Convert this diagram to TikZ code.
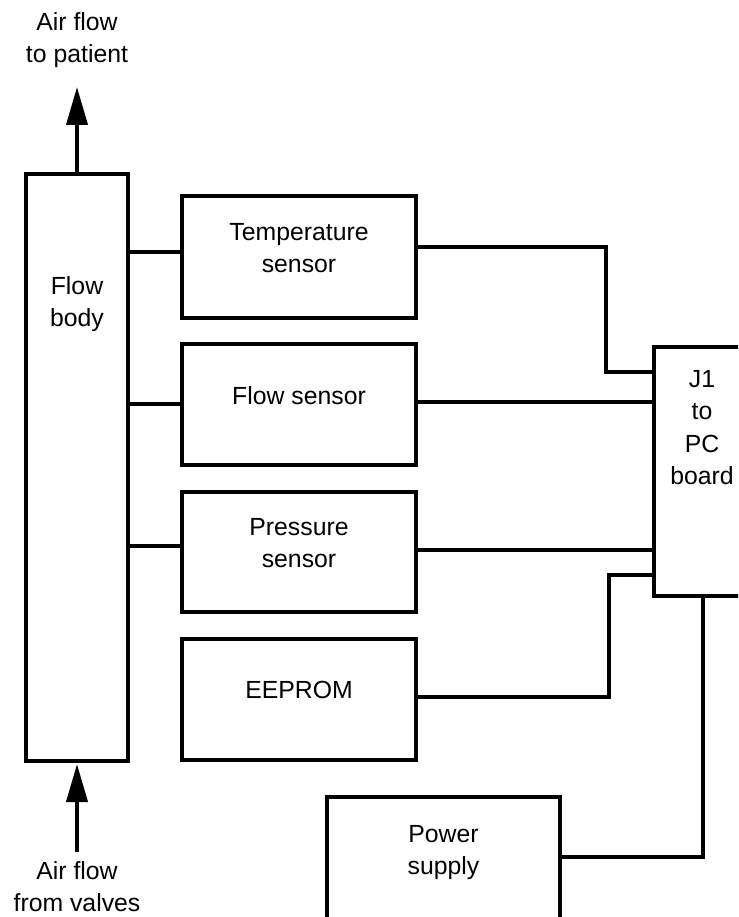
\documentclass[tikz,border=0pt]{standalone}
\usepackage{fontspec}
\setmainfont{Liberation Sans}
\usetikzlibrary{arrows.meta}
\tikzset{
  box/.style={draw, line width=4pt, rectangle, inner sep=0pt},
  txt/.style={align=center, inner sep=0pt, font=\fontsize{24.8}{32.5}\selectfont},
  wire/.style={line width=4pt},
  flowarrow/.style={line width=4pt, -{Triangle[length=38pt,width=21pt]}}
}
\begin{document}
\begin{tikzpicture}[x=1pt,y=-1pt]
\useasboundingbox (0,0) rectangle (738,917);
\clip (0,0) rectangle (738,917);
% boxes
\node[box, minimum width=102pt, minimum height=587pt,
      label={[txt, name=fbT, anchor=north, yshift=-104pt]north:{Flow\\body}}] (fb) at (77,467.5) {};
\node[box, minimum width=234pt, minimum height=122pt,
      label={[txt, name=tempT, yshift=9pt]center:{Temperature\\sensor}}] (temp) at (299,257) {};
\node[box, minimum width=234pt, minimum height=121pt,
      label={[txt, name=flowT, yshift=9pt]center:{Flow sensor}}] (flow) at (299,404.5) {};
\node[box, minimum width=234pt, minimum height=120pt,
      label={[txt, name=pressT, yshift=9pt]center:{Pressure\\sensor}}] (press) at (299,552) {};
\node[box, minimum width=234pt, minimum height=121pt,
      label={[txt, name=eepT, yshift=10pt]center:{EEPROM}}] (eep) at (299,699.5) {};
\node[box, minimum width=96pt, minimum height=249pt,
      label={[txt, name=j1T, anchor=north, yshift=-25pt]north:{J1\\to\\PC\\board}}] (j1) at (702,471.5) {};
\node[box, minimum width=233pt, minimum height=163pt,
      label={[txt, name=psT, anchor=north, yshift=-30pt]north:{Power\\supply}}] (ps) at (443.5,878.5) {};
% outer texts
\node[txt, anchor=north] (topT) at (77,12) {Air flow\\to patient};
\node[txt, anchor=north] (botT) at (77,861) {Air flow\\from valves};
% arrows
\coordinate (topEnd) at (77,87);
\coordinate (botStart) at (77,852);
\coordinate (botEnd) at (77,764);
\draw[flowarrow] (fb.north) -- (topEnd);
\draw[flowarrow] (botStart) -- (botEnd);
% flow body to sensors
\draw[wire] (fb.east |- 0,252) -- (temp.west |- 0,252);
\draw[wire] (fb.east |- 0,404) -- (flow.west |- 0,404);
\draw[wire] (fb.east |- 0,546) -- (press.west |- 0,546);
% sensors to J1
\draw[wire] (temp.east |- 0,247) -- (606,247) -- (606,372) -- (j1.west |- 0,372);
\draw[wire] (flow.east |- 0,402) -- (j1.west |- 0,402);
\draw[wire] (press.east |- 0,550) -- (j1.west |- 0,550);
\draw[wire] (eep.east |- 0,697) -- (609,697) -- (609,575) -- (j1.west |- 0,575);
\draw[wire] (j1.south -| 703,0) -- (703,857) -- (ps.east |- 0,857);
\end{tikzpicture}
\end{document}
